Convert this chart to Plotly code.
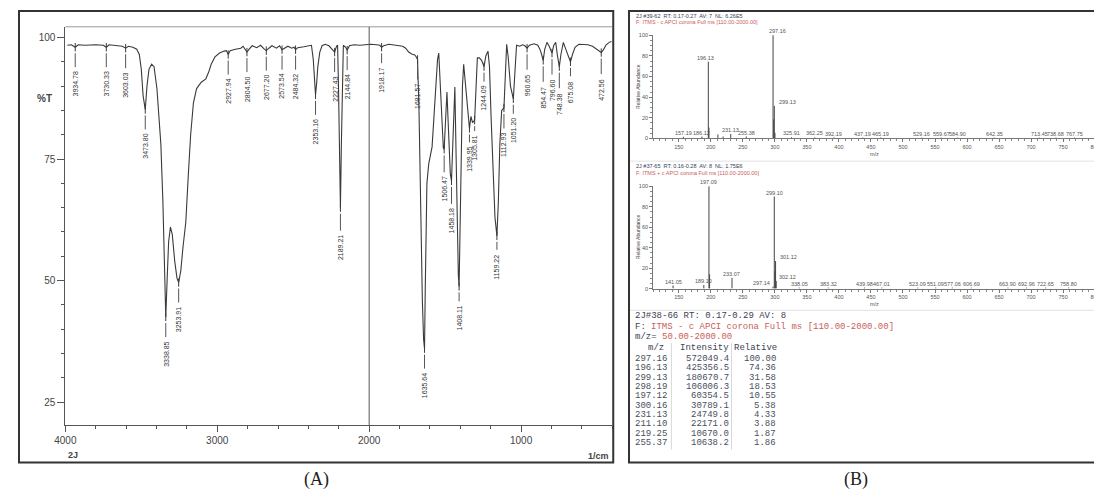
import plotly.graph_objects as go

W, H = 1102, 497
OFF = 8  # page margin of the rendered html


def px(x):
    return (x - OFF) / W


def py(y):
    return 1 - (y - OFF) / H

# ---------------- Panel A : IR spectrum ----------------
IR_CURVE_WN = [3987, 3960, 3915, 3870, 3800, 3750, 3712, 3680, 3650, 3625, 3585, 3555, 3530, 3513, 3500, 3488,
               3462, 3449, 3432, 3416, 3397, 3380, 3371, 3358, 3348, 3330, 3320, 3308, 3296, 3280, 3265,
               3240, 3225, 3207, 3190, 3175, 3157, 3136, 3105, 3075, 3055, 3040, 3015, 2985, 2955, 2940,
               2915, 2880, 2845, 2830, 2790, 2770, 2740, 2715, 2690, 2660, 2640, 2610, 2590, 2560, 2535,
               2510, 2495, 2470, 2430, 2400, 2380, 2368, 2360, 2346, 2338, 2325, 2310, 2290, 2265, 2245,
               2215, 2208, 2202, 2196, 2183, 2177, 2170, 2155, 2130, 2100, 2060, 2020, 1990, 1950, 1930,
               1905, 1870, 1845, 1800, 1780, 1760, 1740, 1720, 1700, 1690, 1672, 1662, 1650, 1642, 1631,
               1627, 1620, 1608, 1595, 1586, 1575, 1563, 1550, 1542, 1534, 1522, 1512, 1498, 1488, 1478,
               1466, 1450, 1442, 1436, 1428, 1420, 1413, 1402, 1394, 1386, 1378, 1368, 1356, 1346, 1330,
               1320, 1298, 1288, 1275, 1260, 1232, 1218, 1208, 1198, 1186, 1172, 1150, 1140, 1128, 1104,
               1095, 1085, 1070, 1042, 1030, 1010, 990, 975, 945, 915, 890, 875, 865, 845, 830, 815, 785,
               772, 762, 738, 722, 705, 690, 662, 645, 620, 590, 560, 530, 505, 485, 460, 440, 420, 405]
IR_CURVE_T = [98.4, 98.5, 98.5, 98.4, 98.5, 98.4, 98.5, 98.4, 98.3, 98.2, 98.2, 98.0, 97.6, 96.5, 93.5, 88,
              90.2, 93.5, 94.5, 94.0, 89.5, 83, 78, 66.5, 52, 50, 58, 61, 59.5, 54, 50.5,
              52, 57, 62, 72, 80, 86.5, 89.5, 90.8, 91.5, 93, 94.5, 96, 96.8, 97.2, 97.3,
              97.3, 97.6, 97.8, 98.2, 97.6, 98.3, 97.9, 98.4, 97.6, 97.8, 98.3, 97.8, 98.3, 97.8, 98.2,
              97.8, 98.0, 97.9, 98.1, 98.2, 98.4, 95.5, 91, 90.5, 94, 97, 98.3, 98.6, 98.3, 97.6,
              98.2, 98.4, 90, 72, 78, 93, 98.4, 98.0, 98.3, 98.5, 98.4, 98.6, 98.6, 98.5, 98.4,
              98.3, 98.6, 98.5, 98.3, 98.2, 97.8, 97.0, 96.6, 96.4, 96.0, 85, 64, 46, 38, 48,
              60, 70, 74, 76, 77.5, 83, 90, 95.5, 96.8, 92, 82, 77.3, 83, 88.8, 81,
              72, 78, 87, 89.8, 76, 60, 51, 58, 75, 90, 94.5, 91, 86, 82.5, 83.8,
              82.5, 89, 95.8, 95.8, 95.3, 96.2, 97.2, 94, 84, 72, 63, 66, 78, 85, 93,
              98.6, 96, 90, 93, 98.4, 98.2, 98.5, 98.3, 98.4, 98.7, 98.4, 97.5, 96.5, 97.5, 99.0, 98.2, 98.4,
              99.0, 96.5, 96.5, 99.0, 97.5, 96, 96.5, 98.0, 98.6, 98.5, 98.5, 98.2, 97.7, 97.2, 97.4, 98.5, 99.0, 99.2]

IR_PEAK_WN = [3934.78, 3730.33, 3603.03, 3473.80, 3338.85, 3253.91, 2927.94, 2804.50, 2677.20, 2573.54,
              2484.32, 2353.16, 2227.43, 2189.21, 2144.84, 1918.17, 1681.57, 1635.64, 1506.47, 1458.18,
              1408.11, 1339.95, 1305.81, 1244.09, 1159.22, 1112.93, 1051.20, 960.65, 854.47, 796.60,
              748.38, 675.08, 472.56]
IR_PEAK_T = [98.0, 98.0, 97.8, 85.2, 42.5, 49.6, 96.5, 97.0, 97.3, 97.5,
             97.5, 88.2, 97.0, 65.0, 97.4, 98.0, 95.5, 36.0, 77.0, 70.5,
             48.8, 81.3, 83.0, 94.0, 59.2, 85.5, 87.4, 97.8, 95.3, 96.8,
             94.0, 95.0, 96.9]

IR_X_RANGE = [4000, 400]
IR_Y_RANGE = [20.3, 102.2]
SPLIT_WN = 2000

# ---------------- Panel B : mass spectra ----------------
MS1_MZ = [157.19, 186.12, 196.13, 197.12, 211.10, 219.25, 231.13, 255.37, 297.16, 298.19, 299.13, 300.16,
          325.91, 362.25, 392.19, 437.19, 465.19, 529.16, 559.67, 584.90, 642.35, 713.45, 738.68, 767.75]
MS1_REL = [1.6, 1.8, 74.36, 10.55, 3.88, 1.87, 4.33, 1.86, 100.0, 18.53, 31.58, 5.38,
           1.1, 1.0, 0.9, 0.9, 0.9, 0.8, 0.8, 0.8, 0.8, 0.8, 0.8, 0.8]
MS1_LABEL = ["157.19", "186.12", "196.13", "", "", "", "231.13", "255.38", "297.16", "", "299.13", "",
             "325.91", "362.25", "392.19", "437.19", "465.19", "529.16", "559.67", "584.90", "642.35",
             "713.45", "738.68", "767.75"]

MS2_MZ = [141.05, 189.10, 197.09, 198.09, 233.07, 297.14, 299.10, 300.10, 301.12, 302.12, 338.05, 383.32,
          439.98, 467.01, 523.09, 551.09, 577.06, 606.69, 663.90, 692.96, 722.65, 758.80]
MS2_REL = [3.0, 3.5, 100.0, 14.0, 10.5, 2.0, 90.0, 17.0, 27.0, 7.5, 1.0, 1.0,
           1.0, 1.0, 1.0, 1.0, 1.0, 1.0, 1.0, 1.0, 1.0, 1.0]
MS2_LABEL = ["141.05", "189.10", "197.09", "", "233.07", "297.14", "299.10", "", "301.12", "302.12",
             "338.05", "383.32", "439.98", "467.01", "523.09", "551.09", "577.06", "606.69", "663.90",
             "692.96", "722.65", "758.80"]

MS_X_RANGE = [110, 800]
MS_Y_RANGE = [0, 100.5]

MS1_HEADER = "2J #39-62  RT: 0.17-0.27  AV: 7  NL: 6.26E5"
MS1_FILTER = "F: ITMS - c APCI corona Full ms [110.00-2000.00]"
MS2_HEADER = "2J #37-65  RT: 0.16-0.28  AV: 8  NL: 1.75E6"
MS2_FILTER = "F: ITMS + c APCI corona Full ms [110.00-2000.00]"

TABLE_TITLE = "2J#38-66 RT: 0.17-0.29 AV: 8"
TABLE_FILTER = "ITMS - c APCI corona Full ms [110.00-2000.00]"
TABLE_RANGE = "50.00-2000.00"
TABLE_MZ = ["297.16", "196.13", "299.13", "298.19", "197.12", "300.16", "231.13", "211.10", "219.25", "255.37"]
TABLE_INT = ["572049.4", "425356.5", "180670.7", "106006.3", "60354.5", "30789.1", "24749.8", "22171.0", "10670.0", "10638.2"]
TABLE_REL = ["100.00", "74.36", "31.58", "18.53", "10.55", "5.38", "4.33", "3.88", "1.87", "1.86"]

# ---------------- styles ----------------
INK = "#3a3a3a"
AX = "#555555"
RED = "#c8605c"
DARK = "#3a3f55"
SANS = "Liberation Sans, Arial, sans-serif"
MONO = "Liberation Mono, Courier New, monospace"
SERIF = "Liberation Serif, Times New Roman, serif"

IR_LABEL_AY = {1506.47: 40, 1458.18: 40, 1408.11: 32, 1339.95: 31, 1305.81: 28, 1244.09: 32,
               1051.20: 32, 1918.17: 33, 675.08: 30, 1159.22: 31, 2189.21: 40}
MS1_XSHIFT = {"196.13": -3, "297.16": 4, "299.13": 13}
MS2_XSHIFT = {"297.14": -12, "301.12": 13, "302.12": 11}

fig = go.Figure()

# IR curve (merge read curve points with peak points)
pts = sorted(zip(IR_CURVE_WN + IR_PEAK_WN, IR_CURVE_T + IR_PEAK_T), key=lambda p: -p[0])
fig.add_trace(go.Scatter(x=[p[0] for p in pts], y=[p[1] for p in pts], mode="lines",
                         line=dict(color=INK, width=1.1), xaxis="x", yaxis="y", hoverinfo="skip"))
fig.add_trace(go.Scatter(x=IR_PEAK_WN, y=IR_PEAK_T, mode="markers",
                         marker=dict(symbol="line-ns", size=6, line=dict(width=1, color=INK)),
                         xaxis="x", yaxis="y", hoverinfo="skip"))


def sticks(mz, rel):
    xs, ys = [], []
    for m, r in zip(mz, rel):
        xs += [m, m, None]
        ys += [0, r, None]
    return xs, ys


for mz, rel, xa, ya in [(MS1_MZ, MS1_REL, "x2", "y2"), (MS2_MZ, MS2_REL, "x3", "y3")]:
    xs, ys = sticks(mz, rel)
    fig.add_trace(go.Scatter(x=xs, y=ys, mode="lines", line=dict(color="#444", width=1),
                             xaxis=xa, yaxis=ya, hoverinfo="skip"))

ann = []
# IR peak labels
for wn, t in zip(IR_PEAK_WN, IR_PEAK_T):
    ann.append(dict(x=wn, y=t, xref="x", yref="y", text=f"{wn:.2f}", showarrow=True,
                    arrowhead=0, arrowwidth=1, arrowcolor="#555", ax=0, ay=IR_LABEL_AY.get(wn, 37),
                    standoff=6, startstandoff=3, textangle=-90,
                    font=dict(size=7, color="#333", family=SANS)))

# MS peak labels
for mz, rel, lab, xa, ya, shifts in [(MS1_MZ, MS1_REL, MS1_LABEL, "x2", "y2", MS1_XSHIFT),
                                     (MS2_MZ, MS2_REL, MS2_LABEL, "x3", "y3", MS2_XSHIFT)]:
    for m, r, l in zip(mz, rel, lab):
        if not l:
            continue
        ann.append(dict(x=m, y=r, xref=xa, yref=ya, text=l, showarrow=False, xanchor="center",
                        yanchor="bottom", xshift=shifts.get(l, 0), yshift=0, borderpad=0,
                        font=dict(size=5.5, color="#555", family=SANS)))


def ptxt(x, y, text, size, color, family, **kw):
    d = dict(x=px(x), y=py(y), xref="paper", yref="paper", text=text, showarrow=False,
             xanchor="center", yanchor="middle", borderpad=0,
             font=dict(size=size, color=color, family=family))
    d.update(kw)
    return d


# IR texts
ann += [
    ptxt(34, 97, "<b>%T</b>", 10, "#444", SANS),
    ptxt(63, 457, "<b>2J</b>", 9, "#444", SANS),
    ptxt(608, 458, "<b>1/cm</b>", 9, "#444", SANS, xanchor="right"),
    ptxt(310, 482, "(A)", 18, "#222", SERIF),
    ptxt(857, 482, "(B)", 18, "#222", SERIF),
]

# MS headers
for hdr, flt, y1, y2, yl in [(MS1_HEADER, MS1_FILTER, 13, 19.5, 84), (MS2_HEADER, MS2_FILTER, 164.5, 171.5, 236)]:
    ann.append(ptxt(633, y1, hdr, 5.5, "#34405a", SANS, xanchor="left"))
    ann.append(ptxt(633, y2, flt, 5.5, RED, SANS, xanchor="left"))
    ann.append(ptxt(636, yl, "Relative Abundance", 5, "#444", SANS, textangle=-90))
for ym in [153, 305]:
    ann.append(ptxt(876, ym, "m/z", 5.5, "#555", SANS))

# Table
TS = 9
CW = 0.6 * TS  # monospace character width
ann += [
    ptxt(632, 317, TABLE_TITLE, TS, DARK, MONO, xanchor="left"),
    ptxt(632, 327.5, "F:", TS, DARK, MONO, xanchor="left"),
    ptxt(632 + 3 * CW, 327.5, TABLE_FILTER, TS, RED, MONO, xanchor="left"),
    ptxt(632, 338, "m/z=", TS, DARK, MONO, xanchor="left"),
    ptxt(632 + 5 * CW, 338, TABLE_RANGE, TS, RED, MONO, xanchor="left"),
    ptxt(654, 349, "m/z", TS, DARK, MONO),
    ptxt(729, 349, "Intensity", TS, DARK, MONO, xanchor="right"),
    ptxt(778, 349, "Relative", TS, DARK, MONO, xanchor="right"),
]
for i, (a, b, c) in enumerate(zip(TABLE_MZ, TABLE_INT, TABLE_REL)):
    for txt, xr in [(a, 667), (b, 729), (c, 777)]:
        ann.append(ptxt(xr, 360 + i * 9.5, txt, TS, "#4a4f60", MONO, xanchor="right"))


def pline(x0, y0, x1, y1, color, width=1):
    return dict(type="line", xref="paper", yref="paper", x0=px(x0), x1=px(x1), y0=py(y0), y1=py(y1),
                line=dict(color=color, width=width))


shapes = [
    dict(type="rect", xref="paper", yref="paper", x0=px(8), x1=px(611), y0=py(465), y1=py(8),
         line=dict(color="#333", width=2)),
    dict(type="rect", xref="paper", yref="paper", x0=px(627), x1=px(1101), y0=py(465), y1=py(8),
         line=dict(color="#333", width=2)),
    pline(55, 24, 610, 24, "#999"),
    dict(type="line", xref="x", yref="paper", x0=SPLIT_WN, x1=SPLIT_WN, y0=py(427), y1=py(24),
         line=dict(color="#555", width=1)),
    pline(628, 160, 1100, 160, "#e2e2e2"),
    pline(628, 311, 1100, 311, "#e2e2e2"),
    pline(670, 452, 670, 344, "#d8d8d8"),
    pline(731, 452, 731, 344, "#d8d8d8"),
]

ir_tickfont = dict(size=10, color="#444", family=SANS)
ms_tickfont = dict(size=5.5, color="#555", family=SANS)


def ms_x(anchor):
    return dict(domain=[px(651.5), px(1100)], range=MS_X_RANGE, anchor=anchor, tick0=0, dtick=50,
                ticks="outside", ticklen=3, tickcolor="#777", showline=True, linecolor="#777", linewidth=1,
                showgrid=False, zeroline=False, tickfont=ms_tickfont,
                minor=dict(dtick=10, ticks="outside", ticklen=2, tickcolor="#888", showgrid=False))


def ms_y(anchor, y0, y1):
    return dict(domain=[py(y0), py(y1)], range=MS_Y_RANGE, anchor=anchor, tick0=0, dtick=20,
                ticks="outside", ticklen=3, tickcolor="#777", showline=True, linecolor="#777", linewidth=1,
                showgrid=False, zeroline=False, tickfont=ms_tickfont,
                minor=dict(dtick=5, ticks="outside", ticklen=2, tickcolor="#888", showgrid=False))


fig.update_layout(
    width=W, height=H, margin=dict(l=0, r=0, t=0, b=0),
    paper_bgcolor="white", plot_bgcolor="white", showlegend=False,
    annotations=ann, shapes=shapes,
    xaxis=dict(domain=[px(55), px(610)], range=IR_X_RANGE, anchor="y", tick0=0, dtick=1000,
               ticks="outside", ticklen=6, tickcolor=AX, showline=True, linecolor=AX, linewidth=1,
               showgrid=False, zeroline=False, tickfont=ir_tickfont, tickformat="d",
               minor=dict(dtick=200, tick0=0, ticks="outside", ticklen=3, tickcolor=AX, showgrid=False)),
    yaxis=dict(domain=[py(427), py(24)], range=IR_Y_RANGE, anchor="x", tick0=0, dtick=25,
               ticks="outside", ticklen=7, tickcolor=AX, showline=True, linecolor=AX, linewidth=1,
               showgrid=False, zeroline=False, tickfont=ir_tickfont,
               minor=dict(dtick=5, tick0=0, ticks="outside", ticklen=3, tickcolor=AX, showgrid=False)),
    xaxis2=ms_x("y2"), yaxis2=ms_y("x2", 137, 32),
    xaxis3=ms_x("y3"), yaxis3=ms_y("x3", 289, 185),
)

fig.write_html("out.html")
